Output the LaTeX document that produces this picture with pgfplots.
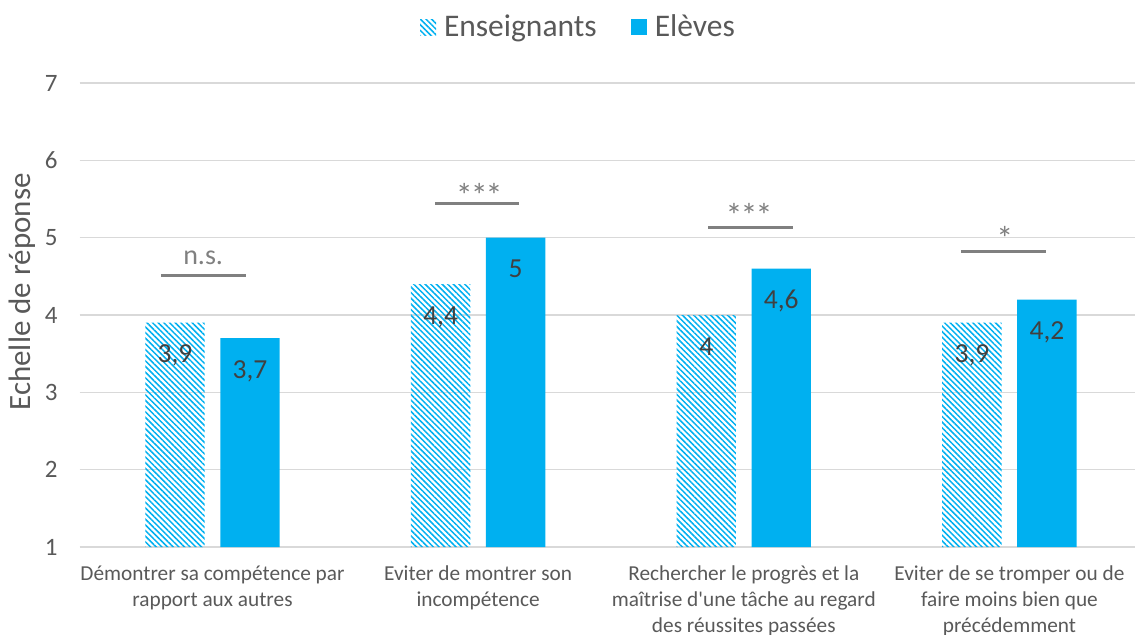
\documentclass[border=0pt]{standalone}
\usepackage{fontspec}
\setmainfont{Carlito}[Ligatures=TeXOff]
\usepackage{pgfplots}
\pgfplotsset{compat=1.18}
\usetikzlibrary{patterns.meta}
\definecolor{cyanbar}{HTML}{00B0F0}
\definecolor{txtgray}{HTML}{595959}
\definecolor{gridgray}{HTML}{D9D9D9}
\definecolor{siggray}{HTML}{808080}
\definecolor{lblgray}{HTML}{404040}
\begin{document}
\begin{tikzpicture}
\useasboundingbox (0,0) rectangle (567.5pt,317pt);
\begin{axis}[
  at={(39.83pt,43.5pt)}, anchor=south west,
  width=531.3pt, height=232pt, scale only axis,
  xmin=-0.5, xmax=3.5, ymin=1, ymax=7,
  ytick={1,2,3,4,5,6,7},
  xtick={0,1,2,3},
  xticklabels={{Démontrer sa compétence par\\rapport aux autres},{Eviter de montrer son\\incompétence},{Rechercher le progrès et la\\maîtrise d'une tâche au regard\\des réussites passées},{Eviter de se tromper ou de\\faire moins bien que\\précédemment}},
  x tick label style={align=center, font=\fontsize{10.65}{13}\selectfont, text=txtgray, anchor=north, yshift=-6pt},
  y tick label style={font=\fontsize{12.5}{15}\selectfont, text=txtgray, xshift=-7.5pt},
  /pgf/number format/assume math mode=true,
  /pgf/number format/use comma,
  major tick length=0pt,
  axis line style={draw=none},
  ymajorgrids, grid style={gridgray, line width=0.75pt},
  ybar, bar width=29.7pt,
  ylabel={Echelle de réponse},
  ylabel style={at={(axis description cs:-0.0465,0.5496)}, anchor=base, font=\fontsize{15.5}{18}\selectfont, text=txtgray},
  legend columns=2,
  legend style={at={(axis description cs:0.4703,1.1207)}, anchor=center, draw=none, fill=none, font=\fontsize{15.75}{18}\selectfont, text=txtgray, /tikz/every even column/.append style={column sep=15pt}},
  legend image code/.code={\draw[#1, draw=none] (0pt,-4pt) rectangle (8pt,4pt); \path (10pt,0pt);},
]
\addplot[bar shift=-18.75pt, draw=none, pattern={Lines[angle=-45,distance=2pt,line width=0.75pt]}, pattern color=cyanbar,
  nodes near coords, every node near coord/.append style={anchor=base, yshift=-20pt, font=\fontsize{13.75}{16}\selectfont, text=lblgray}]
  coordinates {(0,3.9) (1,4.4) (2,4.0) (3,3.9)};
\addlegendentry{Enseignants}
\addplot[bar shift=18.75pt, fill=cyanbar, draw=none,
  nodes near coords, every node near coord/.append style={anchor=base, yshift=-20pt, font=\fontsize{13.75}{16}\selectfont, text=lblgray}]
  coordinates {(0,3.7) (1,5.0) (2,4.6) (3,4.2)};
\addlegendentry{Elèves}
\addplot[sharp plot, no marks, siggray, line width=1.5pt, forget plot] coordinates {(-0.194,4.51) (0.126,4.51)};
\addplot[sharp plot, no marks, siggray, line width=1.5pt, forget plot] coordinates {(0.838,5.445) (1.154,5.445)};
\addplot[sharp plot, no marks, siggray, line width=1.5pt, forget plot] coordinates {(1.866,5.135) (2.184,5.135)};
\addplot[sharp plot, no marks, siggray, line width=1.5pt, forget plot] coordinates {(2.817,4.82) (3.136,4.82)};
\node[anchor=base, text=siggray, font=\fontsize{14}{16}\selectfont] at (axis cs:-0.035,4.653) {n.s.};
\node[anchor=north, inner sep=0pt, text=siggray, font=\fontsize{17}{19}\selectfont] at (axis cs:1.004,5.703) {*\kern-1pt*\kern-1pt*};
\node[anchor=north, inner sep=0pt, text=siggray, font=\fontsize{17}{19}\selectfont] at (axis cs:2.02,5.445) {*\kern-1pt*\kern-1pt*};
\node[anchor=north, inner sep=0pt, text=siggray, font=\fontsize{17}{19}\selectfont] at (axis cs:2.983,5.155) {*};
\end{axis}
\end{tikzpicture}
\end{document}
